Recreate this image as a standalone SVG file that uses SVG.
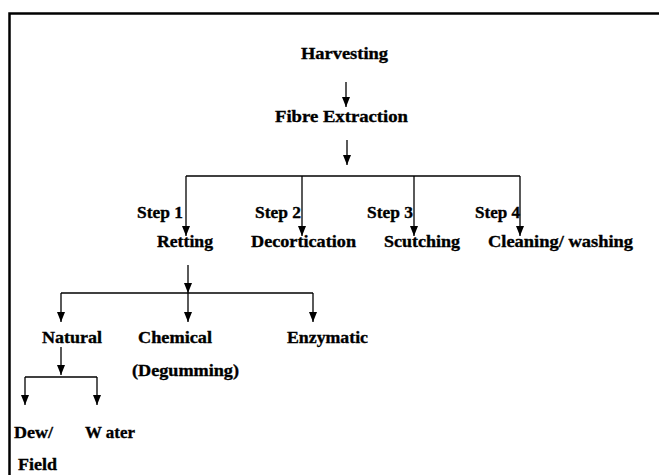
<svg xmlns="http://www.w3.org/2000/svg" width="659" height="475" viewBox="0 0 659 475">
<defs>
<marker id="ah" markerWidth="10" markerHeight="8" refX="10" refY="4" orient="auto" markerUnits="userSpaceOnUse" viewBox="0 0 10 8">
<path d="M0,0 L10,4 L0,8 Z" fill="#000"/>
</marker>
</defs>
<style>
text{font-family:"Liberation Serif","Times New Roman",serif;font-weight:bold;font-size:16.8px;fill:#000;stroke:#000;stroke-width:0.35}
.c line{stroke:#000;stroke-width:1.3;fill:none}
.a{marker-end:url(#ah)}
</style>
<rect width="659" height="475" fill="#fff"/>
<path d="M9.5,475 V13.5 H659" fill="none" stroke="#000" stroke-width="2.5"/>
<g class="c" id="connectors">
<line class="a" x1="346" y1="82" x2="346" y2="107"/>
<line class="a" x1="347" y1="140" x2="347" y2="165"/>
<line x1="186" y1="176" x2="520" y2="176"/>
<line class="a" x1="186" y1="176" x2="186" y2="236"/>
<line class="a" x1="302" y1="176" x2="302" y2="236"/>
<line class="a" x1="414" y1="176" x2="414" y2="236"/>
<line class="a" x1="520" y1="176" x2="520" y2="236"/>
<line class="a" x1="188" y1="265" x2="188" y2="293"/>
<line x1="61" y1="293" x2="313" y2="293"/>
<line class="a" x1="61" y1="293" x2="61" y2="322"/>
<line class="a" x1="188" y1="293" x2="188" y2="322"/>
<line class="a" x1="313" y1="293" x2="313" y2="322"/>
<line class="a" x1="61" y1="347" x2="61" y2="375"/>
<line x1="25" y1="377" x2="97" y2="377"/>
<line class="a" x1="25" y1="377" x2="25" y2="405"/>
<line class="a" x1="97" y1="377" x2="97" y2="405"/>
</g>
<g id="harvesting"><text x="301" y="59" textLength="87" lengthAdjust="spacingAndGlyphs">Harvesting</text></g>
<g id="fibre-extraction"><text x="275" y="122" textLength="133" lengthAdjust="spacingAndGlyphs">Fibre Extraction</text></g>
<g id="step1"><text x="137" y="218" textLength="46" lengthAdjust="spacingAndGlyphs">Step 1</text><text x="157" y="247" textLength="56" lengthAdjust="spacingAndGlyphs">Retting</text></g>
<g id="step2"><text x="255" y="218" textLength="46" lengthAdjust="spacingAndGlyphs">Step 2</text><text x="251" y="247" textLength="105" lengthAdjust="spacingAndGlyphs">Decortication</text></g>
<g id="step3"><text x="367" y="218" textLength="46" lengthAdjust="spacingAndGlyphs">Step 3</text><text x="384" y="247" textLength="76" lengthAdjust="spacingAndGlyphs">Scutching</text></g>
<g id="step4"><text x="475" y="218" textLength="45" lengthAdjust="spacingAndGlyphs">Step 4</text><text x="488" y="247" textLength="145" lengthAdjust="spacingAndGlyphs">Cleaning/ washing</text></g>
<g id="natural"><text x="42" y="343" textLength="60" lengthAdjust="spacingAndGlyphs">Natural</text></g>
<g id="chemical"><text x="138" y="343" textLength="74" lengthAdjust="spacingAndGlyphs">Chemical</text><text x="132" y="376" textLength="107" lengthAdjust="spacingAndGlyphs">(Degumming)</text></g>
<g id="enzymatic"><text x="287" y="343" textLength="81" lengthAdjust="spacingAndGlyphs">Enzymatic</text></g>
<g id="dew-field"><text x="14" y="438" textLength="39" lengthAdjust="spacingAndGlyphs">Dew/</text><text x="18" y="470" textLength="39" lengthAdjust="spacingAndGlyphs">Field</text></g>
<g id="water"><text x="85" y="438" textLength="50" lengthAdjust="spacingAndGlyphs">W ater</text></g>
</svg>
